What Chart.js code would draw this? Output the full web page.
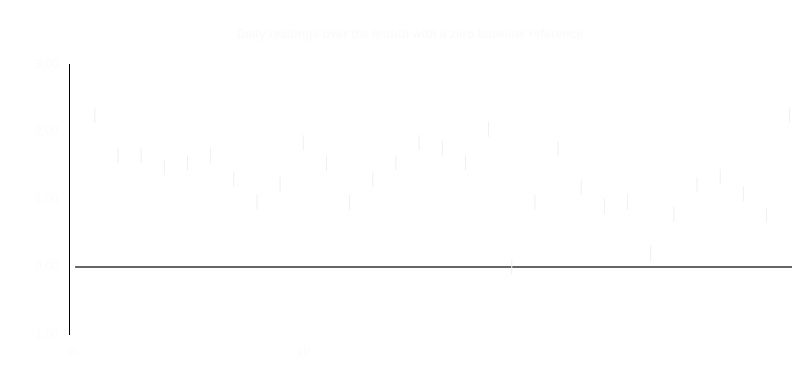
<!DOCTYPE html>
<html>
<head>
<meta charset="utf-8">
<script src="https://cdn.jsdelivr.net/npm/chart.js@4/dist/chart.umd.min.js"></script>
<style>
  html, body { margin: 0; padding: 0; background: #ffffff; }
  #wrap { width: 811px; height: 375px; }
</style>
</head>
<body>
<div id="wrap"><canvas id="c"></canvas></div>
<script>
// Day index of each reading
const days = [1,2,3,4,5,6,7,8,9,10,11,12,13,14,15,16,17,18,19,20,21,22,23,24,25,26,27,28,29,30,31];
// Reading values
const values = [2.25,1.65,1.65,1.47,1.54,1.65,1.30,0.96,1.22,1.84,1.54,0.96,1.30,1.54,1.84,1.76,1.54,2.04,0.0,0.96,1.75,1.18,0.90,0.96,0.20,0.78,1.22,1.34,1.08,0.77,2.25];
// Baseline series
const baseline = [0,0];
const baselineDays = [0.15,31.1];
const yTicks = [-1,0,1,2,3];
const xTicks = [0,10];

const textColor = '#fbfbfb';

new Chart(document.getElementById('c'), {
  type: 'scatter',
  data: {
    datasets: [
      {
        label: 'Baseline',
        data: baselineDays.map((d,i)=>({x:d,y:baseline[i]})),
        showLine: true,
        borderColor: '#333333',
        borderWidth: 1.5,
        pointRadius: 0,
        order: 2
      },
      {
        label: 'Readings',
        data: days.map((d,i)=>({x:d,y:values[i]})),
        pointStyle: 'line',
        rotation: 90,
        pointRadius: 7.5,
        borderColor: '#f0f0f0',
        backgroundColor: '#f0f0f0',
        borderWidth: 1,
        order: 1
      }
    ]
  },
  options: {
    responsive: true,
    maintainAspectRatio: false,
    animation: false,
    layout: { padding: { left: 28, right: 19, top: 0, bottom: 12 } },
    plugins: {
      legend: { display: false },
      tooltip: { enabled: false },
      title: {
        display: true,
        text: 'Daily readings over the month with a zero baseline reference',
        color: textColor,
        font: { size: 12, weight: 'bold' },
        padding: { top: 27, bottom: 23 }
      }
    },
    scales: {
      x: {
        type: 'linear',
        min: -0.1, max: 31.1,
        afterBuildTicks: (s) => { s.ticks = xTicks.map(v => ({ value: v })); },
        ticks: { color: textColor, font: { size: 12 } },
        grid: { color: '#ffffff', tickLength: 8 },
        border: { color: '#ffffff' }
      },
      y: {
        min: -1, max: 3,
        afterBuildTicks: (s) => { s.ticks = yTicks.map(v => ({ value: v })); },
        ticks: { color: textColor, font: { size: 12 }, callback: (v) => Number(v).toFixed(2) },
        grid: { color: '#ffffff', tickLength: 8 },
        border: { color: '#000000', width: 1 }
      }
    }
  }
});
</script>
</body>
</html>
